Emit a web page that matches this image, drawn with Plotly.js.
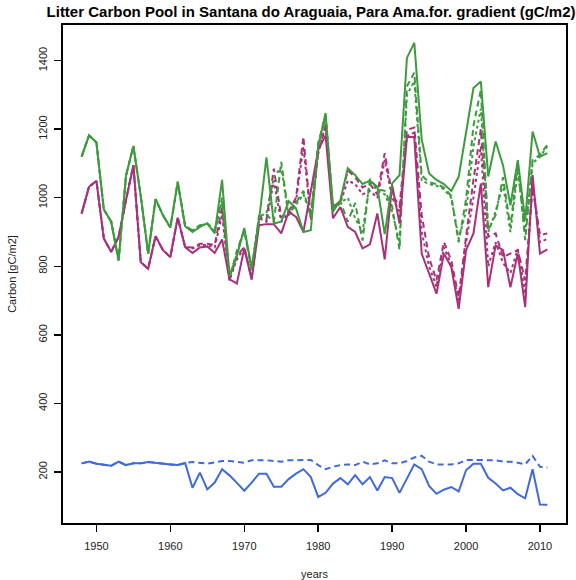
<!DOCTYPE html>
<html>
<head>
<meta charset="utf-8">
<script src="https://cdn.plot.ly/plotly-3.0.1.min.js"></script>
<style>
html,body{margin:0;padding:0;background:#fff;}
#chart{width:576px;height:580px;}
</style>
</head>
<body>
<div id="chart"></div>
<script>
const startYear = 1948;
const endYear = 2011;
const years = [];
for (let y = startYear; y <= endYear; y++) years.push(y);

const greenSolid = [1120,1182,1161,966,930,817,1064,1151,1005,837,996,949,913,1046,917,900,915,925,896,1052,772,830,912,795,935,1118,925,930,990,969,900,905,1150,1247,959,993,1086,1066,1040,1050,1032,894,1042,1066,1408,1452,1170,1071,1052,1040,1020,1061,1190,1320,1339,1062,1164,1095,978,1110,935,1193,1120,1130];
const greenDashed = [1120,1182,1161,966,930,817,1064,1151,1005,837,996,949,913,1046,917,905,920,925,905,1000,765,845,905,785,945,950,930,1105,950,985,1020,945,1160,1240,975,990,930,985,875,1055,1025,1020,975,848,1325,1365,1065,1045,1040,1030,1005,870,995,1210,1315,905,950,1060,915,1100,876,1110,1125,1155];
const greenDotted = [1120,1182,1161,966,930,817,1064,1151,1005,837,996,949,913,1046,917,905,918,925,900,990,768,840,905,790,945,955,1060,1090,945,980,1010,950,1150,1240,970,985,1000,940,900,1050,1020,1010,960,870,1300,1340,1050,1040,1035,1025,1000,880,960,1150,1260,900,960,1040,900,1080,900,1100,1120,1150];

const magentaSolid = [954,1032,1049,881,842,886,993,1095,812,793,888,847,827,942,856,839,855,858,839,878,762,750,852,761,920,923,923,896,959,944,900,1020,1139,1182,940,973,915,900,852,864,954,820,1037,925,1177,1177,837,779,720,837,798,676,847,896,1042,739,861,847,739,837,681,1066,837,849];
const magentaDashed = [954,1032,1049,881,842,886,993,1095,812,793,888,847,827,942,856,855,866,866,862,973,759,830,856,764,945,935,1085,944,960,1000,1178,940,1130,1215,973,990,1080,1060,1030,1040,1010,1130,1010,975,1198,1205,950,825,759,871,817,710,886,1052,1200,886,896,827,837,847,759,1032,891,896];
const magentaDotted = [954,1032,1049,881,842,886,993,1095,812,793,888,847,827,942,856,852,862,862,855,950,760,820,855,765,940,930,1050,930,955,990,1150,935,1130,1210,965,985,1050,1040,1010,1020,1000,1110,1000,960,1180,1190,900,800,740,855,805,695,870,1000,1150,800,870,810,780,850,720,1045,870,880];

const blueSolid = [225,230,224,222,218,230,220,225,225,229,226,224,222,220,226,154,198,149,169,208,190,168,145,169,195,195,157,157,179,195,208,185,127,139,166,182,164,191,164,185,146,185,182,139,182,222,208,159,136,148,156,143,205,224,224,183,166,146,154,135,123,208,105,104];
const blueDashed = [225,230,224,222,218,230,220,225,225,229,226,224,222,220,226,229,226,224,228,232,232,230,227,234,235,234,232,230,234,234,235,235,220,208,215,220,222,220,230,222,225,234,225,225,232,242,247,230,222,222,222,225,235,235,234,235,234,230,230,227,222,247,215,213];

const xTicks = [1950,1960,1970,1980,1990,2000,2010];
const yTicks = [200,400,600,800,1000,1200,1400];

const GREEN = '#3d9a3d';
const MAGENTA = '#a8327a';
const BLUE = '#3f6ad8';
const DASH = '6px,4px';
const DOT = '3px,3px';

function tr(y, color, dash) {
  return {x: years, y: y, type: 'scatter', mode: 'lines',
          line: {color: color, width: 2, dash: dash}, hoverinfo: 'skip'};
}

const data = [
  tr(blueDashed, BLUE, DASH),
  tr(blueSolid, BLUE, 'solid'),
  tr(magentaDotted, MAGENTA, DOT),
  tr(magentaDashed, MAGENTA, DASH),
  tr(greenDotted, GREEN, DOT),
  tr(greenDashed, GREEN, DASH),
  tr(magentaSolid, MAGENTA, 'solid'),
  tr(greenSolid, GREEN, 'solid')
];

const layout = {
  width: 576, height: 580,
  margin: {l: 63, r: 10, t: 25, b: 57},
  paper_bgcolor: '#fff', plot_bgcolor: '#fff',
  showlegend: false,
  font: {family: 'Liberation Sans, Arial, sans-serif', size: 11, color: '#000'},
  title: {text: 'Litter Carbon Pool in Santana do Araguaia, Para Ama.for. gradient (gC/m2)',
          font: {family: 'Liberation Sans, Arial, sans-serif', size: 15, color: '#000', weight: 'bold'},
          x: 0.54, xanchor: 'center', y: 0.979, yanchor: 'middle'},
  xaxis: {
    range: [1945.48, 2013.52], tickvals: xTicks, ticktext: xTicks.map(String),
    showgrid: false, zeroline: false, showline: true, mirror: true, linecolor: '#000', linewidth: 2,
    ticks: 'outside', ticklen: 7, tickwidth: 1.5, tickcolor: '#000',
    tickfont: {size: 11, color: '#222'}, ticklabelstandoff: 5,
    title: {text: 'years', font: {size: 11, color: '#222'}, standoff: 20}
  },
  yaxis: {
    range: [51, 1504], tickvals: yTicks, ticktext: yTicks.map(String),
    showgrid: false, zeroline: false, showline: true, mirror: true, linecolor: '#000', linewidth: 2,
    ticks: 'outside', ticklen: 7, tickwidth: 1.5, tickcolor: '#000',
    tickangle: -90, tickfont: {size: 11, color: '#222'}, ticklabelstandoff: 3,
    title: {text: 'Carbon [gC/m2]', font: {size: 11, color: '#222'}, standoff: 18}
  }
};

Plotly.newPlot('chart', data, layout, {displayModeBar: false, staticPlot: true});
</script>
</body>
</html>
